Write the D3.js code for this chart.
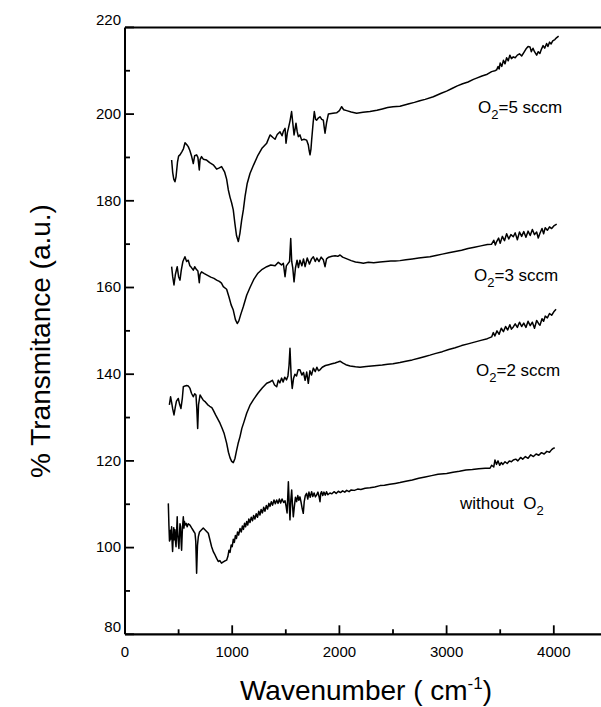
<!DOCTYPE html>
<html>
<head>
<meta charset="utf-8">
<script src="https://cdn.jsdelivr.net/npm/d3@7"></script>
<style>
  html, body { margin: 0; padding: 0; background: #fff; }
  svg { display: block; font-family: "Liberation Sans", Arial, sans-serif; }
</style>
</head>
<body>
<svg id="chart" width="601" height="707"></svg>
<script>
// ---------- data ----------
const xTicksMajor = [0, 1000, 2000, 3000, 4000];
const xTicksMinor = [500, 1500, 2500, 3500, 4500];
const yTicksMajor = [80, 100, 120, 140, 160, 180, 200, 220];
const yTicksMinor = [90, 110, 130, 150, 170, 190, 210];

const seriesNames = ["O2=5 sccm", "O2=3 sccm", "O2=2 sccm", "without O2"];

const wn5 = [435,445,455,466,476,490,500,513,530,545,560,575,590,605,622,637,650,668,680,693,700,714,730,761,790,823,840,855,880,901,930,948,964,980,995,1010,1025,1040,1057,1072,1088,1104,1120,1140,1166,1200,1240,1280,1322,1353,1380,1400,1420,1446,1465,1477,1493,1502,1515,1524,1540,1554,1565,1577,1586,1595,1606,1617,1632,1648,1670,1694,1710,1718,1726,1735,1741,1755,1766,1778,1788,1800,1819,1835,1850,1858,1866,1880,1897,1940,1974,2000,2021,2040,2068,2110,2161,2220,2285,2350,2400,2450,2500,2565,2650,2700,2750,2800,2876,2950,3000,3050,3100,3150,3200,3250,3280,3330,3380,3420,3450,3467,3480,3490,3500,3515,3530,3545,3560,3575,3590,3605,3622,3640,3660,3680,3700,3720,3740,3760,3778,3790,3806,3820,3840,3855,3870,3885,3900,3915,3933,3945,3960,3975,3990,4010,4025,4045];
const t5 = [189.4,186.5,185.0,184.4,185.5,189.0,190.3,190.6,191.3,192.0,193.4,193.0,192.5,191.6,190.2,188.6,190.4,190.6,190.0,187.1,189.5,190.2,189.6,189.4,188.8,188.3,187.8,187.3,187.6,187.9,186.6,185.0,182.5,180.8,179.5,177.9,174.8,172.0,170.6,172.5,175.5,177.9,181.0,184.0,186.3,188.3,190.5,192.2,193.3,195.2,194.6,194.2,195.3,195.9,195.0,196.0,196.7,193.3,195.8,196.7,198.5,200.6,198.0,195.2,196.5,197.9,196.0,194.8,195.2,194.0,194.2,194.0,192.9,191.6,190.6,192.0,194.0,198.0,200.6,198.8,198.6,199.0,199.4,198.8,198.6,197.0,195.6,198.0,200.0,200.2,200.3,200.8,201.7,201.0,200.8,200.5,200.2,200.4,200.6,200.9,201.2,201.5,201.7,201.8,202.4,202.7,203.1,203.4,204.0,204.8,205.3,205.9,206.5,207.0,207.4,208.0,208.3,208.8,209.2,209.8,210.0,210.2,211.0,210.4,211.8,211.0,212.4,211.6,213.0,212.3,213.6,212.8,213.2,213.0,213.6,213.9,213.4,214.2,215.0,215.6,215.5,214.4,215.2,214.4,213.6,214.4,214.0,215.0,215.8,215.2,216.3,215.6,216.6,216.2,216.9,217.2,217.6,218.0];

const wn3 = [435,445,457,470,487,500,513,525,540,559,575,590,605,620,637,650,665,680,693,700,714,740,770,800,830,855,880,900,917,948,970,990,1010,1030,1047,1062,1080,1104,1135,1166,1200,1240,1280,1322,1360,1400,1430,1460,1477,1493,1505,1520,1535,1546,1555,1565,1577,1590,1605,1618,1632,1650,1665,1680,1700,1720,1740,1757,1775,1790,1810,1830,1850,1866,1880,1900,1930,1960,1985,2006,2030,2070,2110,2150,2200,2223,2270,2320,2379,2430,2480,2520,2565,2620,2680,2740,2800,2845,2900,2960,3020,3080,3140,3200,3260,3320,3380,3420,3440,3455,3467,3485,3500,3520,3540,3560,3580,3600,3622,3640,3660,3680,3700,3720,3740,3760,3780,3800,3820,3840,3855,3871,3890,3905,3920,3940,3960,3980,4000,4027];
const t3 = [164.8,162.5,160.6,163.0,164.8,162.5,161.7,164.0,166.0,167.1,166.0,166.3,165.0,164.6,164.0,164.8,164.2,163.8,161.1,163.0,163.6,163.2,162.8,162.4,162.1,161.7,161.4,161.0,160.2,159.6,157.8,156.0,154.8,152.6,151.7,152.3,153.8,155.6,158.2,160.0,161.8,163.3,164.2,164.8,165.2,165.0,165.8,165.2,165.6,162.5,165.0,165.5,166.0,171.3,166.0,164.5,161.3,164.5,166.3,164.6,166.3,165.0,166.6,164.8,166.8,165.4,166.6,167.1,166.0,166.8,166.0,167.0,166.4,164.8,166.6,167.0,167.2,167.3,167.2,167.5,167.0,166.6,166.2,165.9,165.7,165.6,165.8,165.7,165.9,166.0,166.1,166.1,166.2,166.4,166.6,166.8,167.0,167.1,167.4,167.7,168.0,168.3,168.6,169.0,169.3,169.6,169.9,170.0,170.9,169.8,170.6,171.4,170.2,171.8,170.8,172.4,171.2,172.2,171.7,172.6,171.0,172.8,171.8,172.9,171.6,173.0,172.0,173.4,172.2,172.8,171.4,172.5,173.6,172.4,173.8,173.2,174.0,173.6,174.2,174.6];

const wn2 = [414,425,435,445,457,470,480,497,510,522,535,544,560,575,590,605,620,637,650,662,670,678,686,700,715,730,750,770,790,810,823,845,865,886,905,925,948,965,980,995,1010,1025,1040,1055,1073,1090,1110,1135,1165,1200,1240,1280,1322,1350,1375,1395,1415,1430,1445,1461,1475,1490,1507,1520,1530,1539,1550,1560,1572,1585,1600,1615,1632,1650,1665,1680,1695,1710,1725,1740,1757,1775,1790,1805,1819,1840,1870,1900,1930,1960,1985,2006,2030,2060,2100,2150,2192,2250,2300,2350,2400,2450,2500,2565,2620,2680,2740,2800,2845,2900,2960,3020,3080,3140,3200,3260,3320,3380,3420,3436,3450,3470,3490,3510,3530,3550,3570,3590,3605,3622,3640,3660,3680,3700,3720,3740,3760,3780,3800,3820,3840,3860,3871,3890,3905,3920,3940,3960,3980,4000,4021];
const t2 = [132.9,134.8,133.5,132.0,130.6,132.5,133.8,134.4,133.0,132.1,134.5,137.1,137.3,137.4,137.3,136.8,135.6,134.8,135.5,135.2,132.0,127.5,133.0,135.2,134.6,134.0,133.6,133.0,132.6,132.3,131.7,130.6,129.7,128.7,127.6,126.3,124.1,122.0,120.7,119.9,119.6,120.5,122.3,124.0,125.6,127.5,129.0,131.0,132.8,134.2,135.6,136.8,137.9,138.2,138.6,137.5,137.1,138.6,138.0,139.1,138.2,139.3,138.7,139.6,142.0,146.0,139.5,136.7,139.0,140.0,139.6,141.0,141.0,139.8,140.4,138.6,140.5,137.9,140.8,139.8,141.4,140.6,141.6,140.8,141.0,141.6,142.0,142.2,142.4,142.6,142.8,143.0,142.6,142.2,141.9,141.7,141.6,141.8,141.9,142.0,142.1,142.3,142.4,142.7,143.0,143.3,143.7,144.1,144.4,144.8,145.2,145.7,146.1,146.6,147.0,147.4,147.8,148.2,148.6,149.6,148.8,150.0,149.2,150.6,149.8,151.0,150.2,151.4,150.4,150.9,151.6,150.8,152.0,151.0,151.8,150.8,152.2,151.2,152.0,150.6,152.4,151.6,151.3,152.8,152.2,153.4,153.0,154.0,153.6,154.4,155.0];

const wn0 = [404,410,415,420,425,430,435,440,444,450,455,460,466,471,476,481,487,492,497,503,508,513,519,523,528,534,539,544,550,555,560,570,580,590,606,620,635,645,653,660,668,676,684,695,710,730,750,777,792,808,825,840,855,870,885,900,917,930,948,960,970,980,990,1000,1010,1020,1030,1040,1050,1060,1073,1085,1095,1105,1115,1125,1135,1145,1155,1166,1178,1190,1200,1212,1224,1236,1248,1259,1270,1282,1294,1306,1318,1330,1342,1353,1365,1377,1390,1402,1415,1428,1440,1452,1465,1480,1493,1503,1512,1524,1532,1539,1547,1555,1562,1570,1580,1590,1601,1612,1622,1632,1643,1653,1663,1672,1682,1694,1705,1716,1728,1741,1752,1764,1776,1787,1800,1810,1819,1826,1834,1845,1856,1868,1880,1892,1912,1930,1950,1970,1990,2010,2030,2050,2068,2090,2110,2140,2170,2200,2240,2285,2330,2379,2420,2470,2520,2565,2620,2680,2740,2800,2860,2920,3001,3060,3120,3180,3240,3300,3360,3405,3420,3440,3451,3465,3480,3495,3510,3525,3545,3565,3585,3605,3622,3645,3665,3690,3710,3735,3760,3785,3810,3835,3860,3885,3910,3935,3960,3980,3995,4010];
const t0 = [110.2,105,101.5,101.8,104,102,104.8,101,99.1,102.5,104.6,101.8,104.1,101.5,100.2,103.5,107.1,103,101.5,99.8,103.0,105.5,104.8,101.5,99.4,103.5,105.5,107.1,104.5,106.0,105.2,105.6,104.8,105.5,105.2,104.6,104.0,103.6,103.3,101.5,94.1,100.5,102.5,103.6,104.0,104.5,104.0,103.3,101.8,100.2,99.0,98.3,97.5,96.8,97.0,96.4,96.7,96.9,97.1,98.0,99.4,98.9,100.6,100.2,101.9,101.2,102.8,102.1,103.6,102.9,104.4,103.6,105.0,104.2,105.6,104.8,106.0,105.2,106.6,105.8,107.0,106.2,107.4,106.6,107.8,107.0,108.4,107.5,108.8,108.0,109.3,108.4,109.7,108.9,110.2,109.5,110.6,109.8,111.0,110.1,111.0,110.2,111.2,110.3,111.2,110.4,110.8,109.5,108.0,115.2,110.0,106.4,111.0,113.3,110.0,107.1,109.5,111.6,110.6,112.0,110.9,111.7,110.4,109.0,107.9,110.6,112.0,112.5,111.2,112.8,111.6,112.9,111.8,112.6,111.7,112.1,112.8,111.8,110.6,112.5,112.9,112.0,112.8,112.1,112.9,112.2,112.6,112.4,112.9,112.5,113.0,112.7,113.1,112.8,113.2,112.9,113.3,113.2,113.5,113.4,113.7,113.8,114.0,114.3,114.4,114.6,114.8,115.0,115.3,115.6,116.0,116.3,116.6,116.9,117.1,117.4,117.6,117.9,118.0,118.2,118.3,118.3,119.0,118.6,120.2,119.2,120.0,119.0,119.6,119.2,119.8,119.4,120.0,119.8,120.2,120.4,120.0,120.8,120.4,121.0,120.6,121.4,121.0,121.6,121.3,121.9,121.6,122.2,122.0,122.6,122.9,123.0];

const wnSets = [wn5, wn3, wn2, wn0];
const tSets = [t5, t3, t2, t0];

// ---------- layout ----------
const svg = d3.select("#chart");
const x = d3.scaleLinear().domain([0, 4500]).range([125, 607.4]);
const y = d3.scaleLinear().domain([80, 220]).range([634.3, 27.4]);

// curves
const line = d3.line().x(d => x(d[0])).y(d => y(d[1]));
wnSets.forEach((w, i) => {
  const pts = w.map((v, k) => [v, tSets[i][k]]);
  svg.append("path")
    .attr("d", line(pts))
    .attr("fill", "none")
    .attr("stroke", "#000")
    .attr("stroke-width", 1.5)
    .attr("stroke-linejoin", "round");
});

// axes lines
svg.append("line").attr("x1", x(0)).attr("x2", 601).attr("y1", y(80)).attr("y2", y(80))
  .attr("stroke", "#000").attr("stroke-width", 2.2);
svg.append("line").attr("x1", x(0)).attr("x2", 601).attr("y1", y(220)).attr("y2", y(220))
  .attr("stroke", "#000").attr("stroke-width", 2);
svg.append("line").attr("x1", x(0)).attr("x2", x(0)).attr("y1", y(220)).attr("y2", y(80))
  .attr("stroke", "#000").attr("stroke-width", 2);

// y ticks (inward)
svg.selectAll(".ytM").data(yTicksMajor).enter().append("line")
  .attr("x1", x(0)).attr("x2", x(0) + 9).attr("y1", d => y(d)).attr("y2", d => y(d))
  .attr("stroke", "#000").attr("stroke-width", 1.8);
svg.selectAll(".ytm").data(yTicksMinor).enter().append("line")
  .attr("x1", x(0)).attr("x2", x(0) + 5).attr("y1", d => y(d)).attr("y2", d => y(d))
  .attr("stroke", "#000").attr("stroke-width", 1.8);
svg.selectAll(".ytl").data(yTicksMajor).enter().append("text")
  .attr("x", x(0) - 4).attr("y", d => y(d))
  .attr("dy", d => (d === 220 || d === 80) ? "-0.15em" : "0.32em")
  .attr("text-anchor", "end").attr("font-size", 15).text(d => d);

// x ticks (inward, upward)
svg.selectAll(".xtM").data(xTicksMajor.filter(d => d > 0)).enter().append("line")
  .attr("x1", d => x(d)).attr("x2", d => x(d)).attr("y1", y(80)).attr("y2", y(80) - 9)
  .attr("stroke", "#000").attr("stroke-width", 1.8);
svg.selectAll(".xtm").data(xTicksMinor).enter().append("line")
  .attr("x1", d => x(d)).attr("x2", d => x(d)).attr("y1", y(80)).attr("y2", y(80) - 5)
  .attr("stroke", "#000").attr("stroke-width", 1.8);
svg.selectAll(".xtl").data(xTicksMajor).enter().append("text")
  .attr("x", d => x(d)).attr("y", 657)
  .attr("text-anchor", "middle").attr("font-size", 15).text(d => d);

// axis titles
const xt = svg.append("text").attr("x", 366).attr("y", 700).attr("text-anchor", "middle").attr("font-size", 28);
xt.append("tspan").text("Wavenumber ( cm");
xt.append("tspan").attr("font-size", 17).attr("dy", -11).text("-1");
xt.append("tspan").attr("dy", 11).text(")");

svg.append("text").attr("transform", "translate(50,341) rotate(-90)")
  .attr("text-anchor", "middle").attr("font-size", 28).text("% Transmitance (a.u.)");

// annotations
function o2Label(xp, yp, val) {
  const t = svg.append("text").attr("x", xp).attr("y", yp).attr("font-size", 17);
  t.append("tspan").text("O");
  t.append("tspan").attr("font-size", 13).attr("dy", 6).text("2");
  t.append("tspan").attr("dy", -6).text("=" + val + " sccm");
}
o2Label(478, 113, 5);
o2Label(474, 281, 3);
o2Label(476, 376, 2);
const w = svg.append("text").attr("x", 460).attr("y", 509).attr("font-size", 17);
w.append("tspan").text("without\u00A0\u00A0O");
w.append("tspan").attr("font-size", 13).attr("dy", 6).text("2");
</script>
</body>
</html>
